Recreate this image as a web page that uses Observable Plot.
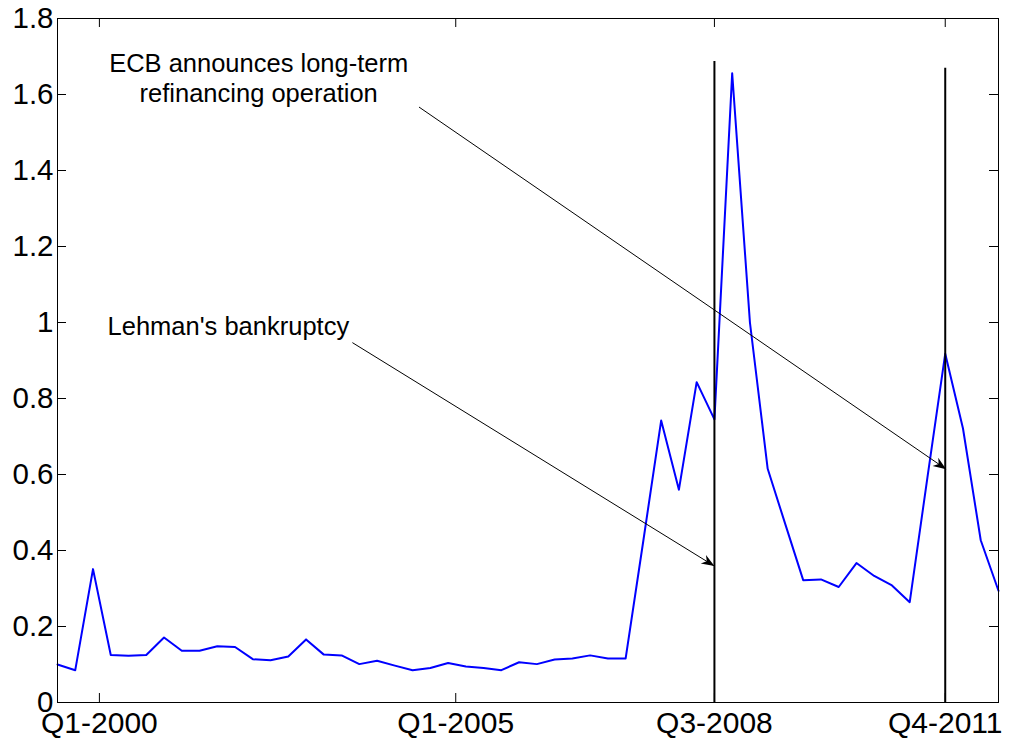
<!DOCTYPE html>
<html>
<head>
<meta charset="utf-8">
<script src="https://cdn.jsdelivr.net/npm/d3@7"></script>
<script src="https://cdn.jsdelivr.net/npm/@observablehq/plot@0.6"></script>
<style>
  body { margin: 0; background: #fff; }
  #chart svg { display: block; }
</style>
</head>
<body>
<div id="chart"></div>
<script>
// Quarterly series (index 0 = first quarter shown)
const spread = [
  0.100, 0.085, 0.351, 0.125, 0.123, 0.125, 0.171, 0.136, 0.136, 0.148,
  0.146, 0.114, 0.111, 0.121, 0.166, 0.126, 0.124, 0.101, 0.110, 0.097,
  0.085, 0.091, 0.104, 0.095, 0.091, 0.085, 0.106, 0.101, 0.113, 0.116,
  0.124, 0.116, 0.116, 0.427, 0.742, 0.560, 0.843, 0.745, 1.656, 1.000,
  0.615, 0.468, 0.322, 0.324, 0.304, 0.367, 0.333, 0.308, 0.264, 0.593,
  0.918, 0.721, 0.427, 0.294
];

// x-axis ticks (in quarter-index units) and their labels
const xTickValues = [2.36, 22.43, 37, 50];
const xTickLabels = ["Q1-2000", "Q1-2005", "Q3-2008", "Q4-2011"];

// y-axis ticks
const yTicks = [0, 0.2, 0.4, 0.6, 0.8, 1, 1.2, 1.4, 1.6, 1.8];

// event markers (vertical lines)
const eventIndex = [37, 50];
const eventTop = [1.687, 1.669];

// annotations
const noteTexts = ["ECB announces long-term\nrefinancing operation", "Lehman's bankruptcy"];
const noteX = [11.33, 2.82];
const noteY = [1.6455, 0.988];
const noteAnchor = ["middle", "start"];
const arrowX1 = [20.36, 16.61];
const arrowY1 = [1.567, 0.947];
const arrowX2 = [50.05, 37];
const arrowY2 = [0.614, 0.359];

const series = spread.map((v, i) => ({i, v}));
const events = eventIndex.map((x, k) => ({x, top: eventTop[k]}));
const notes = noteTexts.map((t, k) => ({t, x: noteX[k], y: noteY[k], anchor: noteAnchor[k]}));
const arrows = arrowX1.map((x1, k) => ({x1, y1: arrowY1[k], x2: arrowX2[k], y2: arrowY2[k]}));

const W = 1011, H = 742;
const mL = 57, mR = 13, mT = 18, mB = 40;
const innerW = W - mL - mR, innerH = H - mT - mB;
const TICK = 9;
const FONT = "Arial, 'Liberation Sans', Helvetica, sans-serif";

function headMarker(color) {
  const ns = "http://www.w3.org/2000/svg";
  const m = document.createElementNS(ns, "marker");
  m.setAttribute("viewBox", "-14 -6 15 12");
  m.setAttribute("markerWidth", 15);
  m.setAttribute("markerHeight", 12);
  m.setAttribute("markerUnits", "userSpaceOnUse");
  m.setAttribute("orient", "auto");
  m.setAttribute("refX", 0);
  m.setAttribute("refY", 0);
  const p = document.createElementNS(ns, "path");
  p.setAttribute("d", "M0,0L-13,-5L-9,0L-13,5Z");
  p.setAttribute("fill", color);
  p.setAttribute("stroke", "none");
  m.appendChild(p);
  return m;
}

const chart = Plot.plot({
  width: W,
  height: H,
  marginLeft: mL,
  marginRight: mR,
  marginTop: mT,
  marginBottom: mB,
  style: {fontFamily: FONT, background: "#fff", color: "#000"},
  x: {domain: [0, spread.length - 1]},
  y: {domain: [0, 1.8]},
  marks: [
    // axes labels (ticks drawn inward separately)
    Plot.axisY(yTicks, {
      anchor: "left", tickSize: 0, tickPadding: 4, fontSize: 29.5,
      tickFormat: d => String(+(+d).toFixed(1)), label: null
    }),
    Plot.axisX(xTickValues, {
      anchor: "bottom", tickSize: 0, tickPadding: 9, fontSize: 30,
      tickFormat: (d) => xTickLabels[xTickValues.indexOf(d)], label: null
    }),
    // inward tick marks
    Plot.tickY(yTicks, {y: d => d, insetRight: innerW - TICK, stroke: "black"}),
    Plot.tickY(yTicks, {y: d => d, insetLeft: innerW - TICK, stroke: "black"}),
    Plot.tickX(xTickValues, {x: d => d, insetTop: innerH - TICK, stroke: "black"}),
    Plot.tickX(xTickValues, {x: d => d, insetBottom: innerH - TICK, stroke: "black"}),
    // series
    Plot.line(series, {x: "i", y: "v", stroke: "#0000ff", strokeWidth: 2}),
    // event lines
    Plot.ruleX(events, {x: "x", y1: 0, y2: "top", stroke: "black", strokeWidth: 2}),
    // arrows
    Plot.link(arrows, {x1: "x1", y1: "y1", x2: "x2", y2: "y2", stroke: "black", strokeWidth: 1, markerEnd: headMarker}),
    // annotation text
    Plot.text(notes.filter(d => d.anchor === "middle"), {x: "x", y: "y", text: "t", textAnchor: "middle", fontSize: 25.5, lineHeight: 1.18, fill: "black"}),
    Plot.text(notes.filter(d => d.anchor === "start"), {x: "x", y: "y", text: "t", textAnchor: "start", fontSize: 25.5, fill: "black"}),
    Plot.frame({stroke: "black", strokeWidth: 1})
  ]
});

document.getElementById("chart").appendChild(chart);
</script>
</body>
</html>
